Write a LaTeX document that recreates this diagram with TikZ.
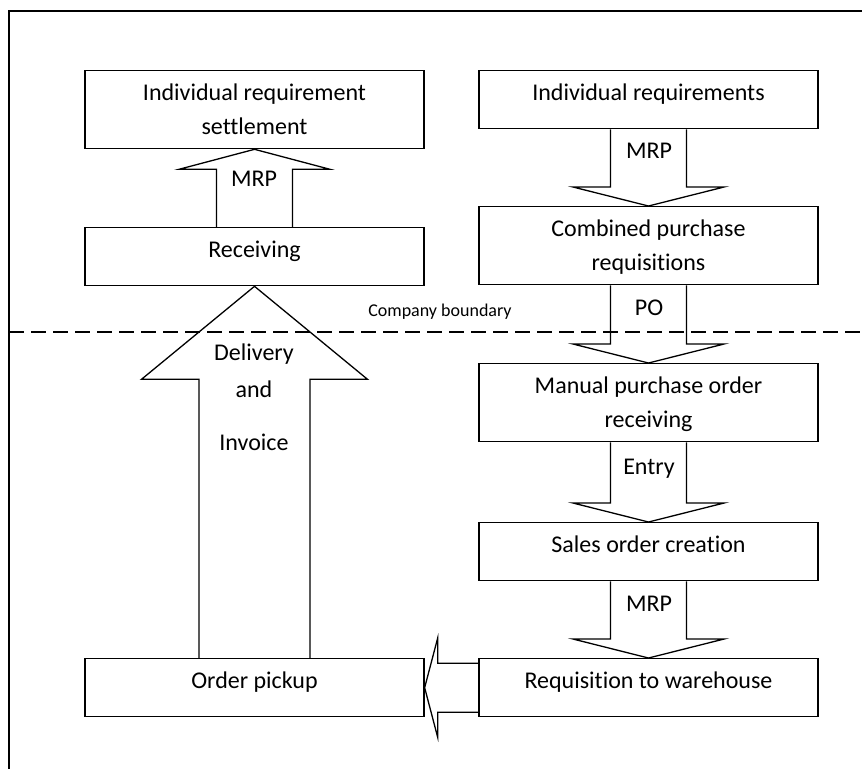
\documentclass[tikz,border=0pt]{standalone}
\usepackage{fontspec}
\setmainfont{Carlito}[Ligatures=NoCommon]
\usetikzlibrary{calc}

\tikzset{
  onebox/.style={draw, line width=0.65pt, minimum width=169.5pt, minimum height=29pt,
    inner ysep=0pt, text height=15pt, text depth=14pt, anchor=north},
  twobox/.style={draw, line width=0.65pt, minimum width=169.5pt, minimum height=39pt,
    inner ysep=0pt, text height=32pt, text depth=7pt, align=center, anchor=north},
  blk/.style={draw, line width=0.65pt, line join=miter},
  boundary/.style={line width=0.6pt, dash pattern=on 7.5pt off 3.5pt}
}

\begin{document}
\begin{tikzpicture}[x=0.5pt, y=-0.5pt, font=\fontsize{12}{17}\selectfont]
  \useasboundingbox (0,0) rectangle (862,768);
  \draw[line width=0.6pt] (9,800) |- (900,11);
  % left column
  \node[twobox] (settle) at (254.5,70) {Individual requirement\\settlement};
  \node[onebox] (recv) at (254.5,227) {Receiving};
  \node[onebox] (pickup) at (254.5,658) {Order pickup};
  % right column
  \node[onebox] (indreq) at (648.5,70) {Individual requirements};
  \node[twobox] (comb) at (648.5,206) {Combined purchase\\requisitions};
  \node[twobox] (manual) at (648.5,363) {Manual purchase order\\receiving};
  \node[onebox] (sales) at (648.5,522) {Sales order creation};
  \node[onebox] (reqwh) at (648.5,658) {Requisition to warehouse};
  % block arrows
  \draw[blk] ($(recv.north)+(-38,0)$) |- ($(settle.south)+(-75.5,20)$) -- (settle.south)
    -- ($(settle.south)+(75.5,20)$) -| ($(recv.north)+(38,0)$);
  \draw[blk] ($(pickup.north)+(-55.5,0)$) |- ($(recv.south)+(-113,93)$) -- (recv.south)
    -- ($(recv.south)+(113,93)$) -| ($(pickup.north)+(55.5,0)$);
  \draw[blk] ($(indreq.south)+(-38,0)$) |- ($(comb.north)+(-75.5,-19)$) -- (comb.north)
    -- ($(comb.north)+(75.5,-19)$) -| ($(indreq.south)+(38,0)$);
  \draw[blk] ($(comb.south)+(-38,0)$) |- ($(manual.north)+(-75.5,-19)$) -- (manual.north)
    -- ($(manual.north)+(75.5,-19)$) -| ($(comb.south)+(38,0)$);
  \draw[blk] ($(manual.south)+(-38,0)$) |- ($(sales.north)+(-75.5,-19)$) -- (sales.north)
    -- ($(sales.north)+(75.5,-19)$) -| ($(manual.south)+(38,0)$);
  \draw[blk] ($(sales.south)+(-38,0)$) |- ($(reqwh.north)+(-75.5,-19)$) -- (reqwh.north)
    -- ($(reqwh.north)+(75.5,-19)$) -| ($(sales.south)+(38,0)$);
  \draw[blk] ($(reqwh.west)+(0,-24.5)$) -| ($(pickup.east)+(13,-49.5)$) -- (pickup.east)
    -- ($(pickup.east)+(13,49.5)$) |- ($(reqwh.west)+(0,24.5)$);
  % arrow labels
  \node[anchor=base] (mrpup) at (254,186) {MRP};
  \node[anchor=base, align=center] (deliv) at (254,450) {Delivery\\[1.5pt]and\\[9.5pt]Invoice};
  \node[anchor=base] (mrpdown) at (649,158) {MRP};
  \node[anchor=base] (po) at (649,315) {PO};
  \node[anchor=base] (entry) at (649,474) {Entry};
  \node[anchor=base] (mrpwh) at (649,611) {MRP};
  % company boundary
  \draw[boundary] (9,332) -- (862,332);
  \node[anchor=base, font=\fontsize{9}{11}\selectfont] (bnd) at (440,316) {Company boundary};
\end{tikzpicture}
\end{document}
